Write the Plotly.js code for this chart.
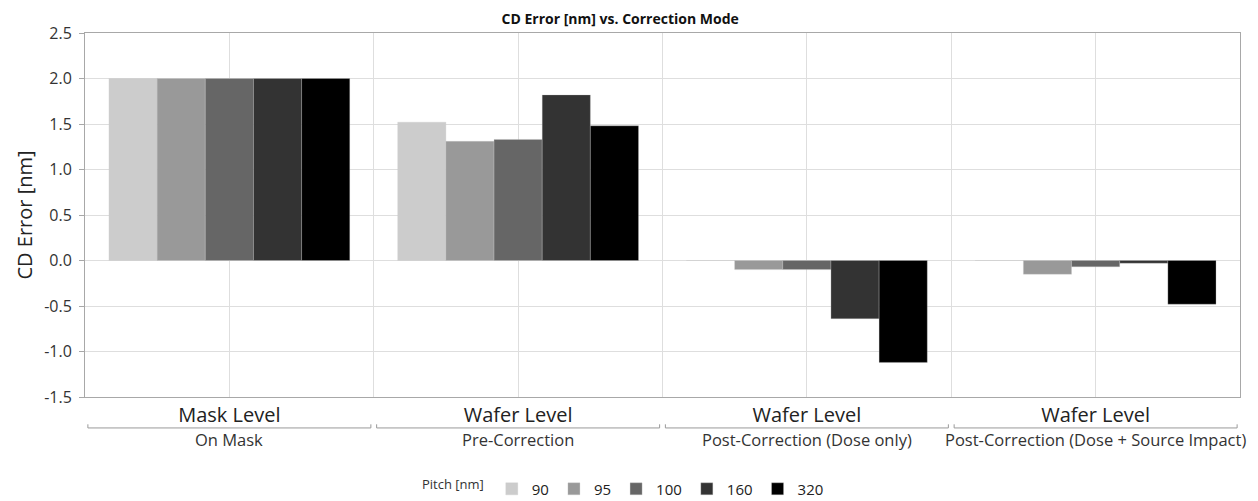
<!DOCTYPE html>
<html>
<head>
<meta charset="utf-8">
<script src="https://cdn.plot.ly/plotly-3.0.1.min.js"></script>
<style>html,body{margin:0;padding:0;background:#fff}#chart{width:1258px;height:501px}</style>
</head>
<body>
<div id="chart"></div>
<script>
// Data
const categories = ["Mask Level", "Wafer Level", "Wafer Level", "Wafer Level"];
const subLabels = ["On Mask", "Pre-Correction", "Post-Correction (Dose only)", "Post-Correction (Dose + Source Impact)"];
const pitches = ["90", "95", "100", "160", "320"];
const p90  = [2.00, 1.52,  0.00,  0.00];
const p95  = [2.00, 1.31, -0.10, -0.15];
const p100 = [2.00, 1.33, -0.10, -0.07];
const p160 = [2.00, 1.82, -0.64, -0.03];
const p320 = [2.00, 1.48, -1.12, -0.48];
const yTicks = [-1.5, -1.0, -0.5, 0.0, 0.5, 1.0, 1.5, 2.0, 2.5];

const seriesValues = [p90, p95, p100, p160, p320];
const colors = ["#cccccc", "#999999", "#666666", "#333333", "#000000"];
const xIdx = categories.map((_, i) => i);

const font = "'Open Sans', 'Noto Sans', sans-serif";

const traces = pitches.map((p, k) => ({
  type: "bar",
  name: p,
  x: xIdx,
  y: seriesValues[k],
  marker: {color: colors[k], line: {color: "rgba(200,200,200,0.6)", width: 0.5}},
  hoverinfo: "x+y+name"
}));

const shapes = [];
const annotations = [];
xIdx.forEach(i => {
  const a = i - 0.49, b = i + 0.49, y = -0.085, h = 0.01;
  shapes.push({type: "path", xref: "x", yref: "paper",
    path: `M ${a} ${y + h} L ${a} ${y} L ${b} ${y} L ${b} ${y + h}`,
    line: {color: "#9a9a9a", width: 1}});
  annotations.push({xref: "x", yref: "paper", x: i, y: -0.118, yanchor: "middle",
    text: subLabels[i], showarrow: false, font: {family: font, size: 16.5, color: "#333"}});
});

const layout = {
  width: 1258, height: 501,
  margin: {l: 85, r: 18, t: 33, b: 104, autoexpand: false},
  paper_bgcolor: "#fff", plot_bgcolor: "#fff",
  font: {family: font, color: "#333"},
  title: {text: "<b>CD Error [nm] vs. Correction Mode</b>", x: 0.493, xanchor: "center", y: 0.962, yanchor: "middle",
          font: {family: font, size: 14, color: "#111"}},
  bargap: 0.166, bargroupgap: 0,
  barmode: "group",
  xaxis: {
    range: [-0.5, 3.5], tickmode: "array", tickvals: xIdx, ticktext: categories,
    tickfont: {family: font, size: 20, color: "#222"},
    showgrid: true, gridcolor: "#dedede", gridwidth: 1,
    minor: {tick0: 0.5, dtick: 1, showgrid: true, gridcolor: "#dedede", gridwidth: 1, ticklen: 0},
    showline: true, linecolor: "#a8a8a8", linewidth: 1, mirror: true,
    ticks: "", zeroline: false, fixedrange: true, automargin: false
  },
  yaxis: {
    range: [-1.5, 2.5], tickmode: "array", tickvals: yTicks,
    ticktext: yTicks.map(v => v.toFixed(1)),
    tickfont: {family: font, size: 16, color: "#333"},
    ticklabelstandoff: 4,
    showgrid: true, gridcolor: "#dedede", gridwidth: 1,
    showline: true, linecolor: "#a8a8a8", linewidth: 1, mirror: true,
    ticks: "outside", ticklen: 5, tickcolor: "#a8a8a8",
    zeroline: false, automargin: false,
    title: {text: "CD Error [nm]", font: {family: font, size: 20, color: "#222"}, standoff: 6}
  },
  legend: {
    orientation: "h", x: 0.29, xanchor: "left", y: -0.253, yanchor: "middle",
    title: {text: "Pitch [nm]", font: {family: font, size: 13, color: "#333"}, side: "left"},
    font: {family: font, size: 15, color: "#222"},
    itemwidth: 30,
    traceorder: "normal"
  },
  shapes: shapes,
  annotations: annotations
};

Plotly.newPlot("chart", traces, layout, {displayModeBar: false, staticPlot: true});
</script>
</body>
</html>
